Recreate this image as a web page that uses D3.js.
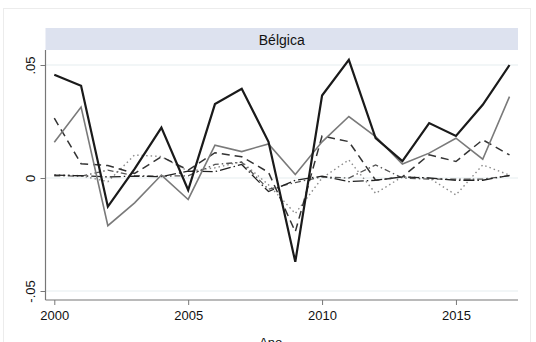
<!DOCTYPE html>
<html>
<head>
<meta charset="utf-8">
<script src="https://cdn.jsdelivr.net/npm/d3@7"></script>
<style>
  html, body { margin: 0; padding: 0; background: #fff; }
  svg { display: block; font-family: "Liberation Sans", Arial, Helvetica, sans-serif; }
</style>
</head>
<body>
<svg id="chart" width="536" height="342"></svg>
<script>
const years = [2000,2001,2002,2003,2004,2005,2006,2007,2008,2009,2010,2011,2012,2013,2014,2015,2016,2017];
const seriesBlack   = [0.0457,0.0408,-0.0127,0.0040,0.0223,-0.0053,0.0327,0.0395,0.0160,-0.0371,0.0365,0.0523,0.0177,0.0075,0.0243,0.0186,0.0324,0.0500];
const seriesGray    = [0.0158,0.0314,-0.0211,-0.0110,0.0013,-0.0095,0.0145,0.0117,0.0151,0.0015,0.0160,0.0272,0.0183,0.0062,0.0110,0.0176,0.0083,0.0360];
const seriesDash    = [0.0265,0.0063,0.0055,0.0020,0.0094,0.0035,0.0112,0.0094,0.0025,-0.0238,0.0186,0.0161,-0.0010,0.0005,0.0103,0.0073,0.0169,0.0102];
const seriesDot     = [0.0015,0.0010,-0.0016,0.0102,0.0095,0.0030,0.0045,0.0072,-0.0030,-0.0157,0.0000,0.0080,-0.0068,0.0006,0.0000,-0.0075,0.0058,0.0013];
const seriesDashDot = [0.0013,0.0010,0.0005,0.0008,0.0006,0.0030,0.0028,0.0060,-0.0060,-0.0010,0.0008,-0.0016,-0.0010,0.0005,0.0000,-0.0010,-0.0010,0.0012];
const seriesShortDD = [0.0010,0.0008,0.0035,0.0010,0.0008,0.0010,0.0060,0.0070,-0.0050,-0.0020,0.0005,0.0000,0.0058,0.0000,-0.0005,-0.0005,-0.0005,0.0010];
const xTicks = [2000,2005,2010,2015];
const yTicks = [-0.05,0,0.05];
const yTickLabels = ["-.05","0",".05"];
const panelTitle = "Bélgica";
const xTitle = "Ano";

const svg = d3.select("#chart");

// outer faint frame
svg.append("rect").attr("x",3.5).attr("y",8.5).attr("width",527).attr("height",345)
  .attr("fill","#fff").attr("stroke","#ececec").attr("stroke-width",1);

const plot = {left:45.5, right:518, top:50, bottom:300};
const x = d3.scaleLinear().domain([2000,2017]).range([54.3,509.5]);
const y = d3.scaleLinear().domain([-0.05,0.05]).range([291,65]);

// title strip
svg.append("rect").attr("x",plot.left).attr("y",28).attr("width",plot.right-plot.left).attr("height",22)
  .attr("fill","#dde2ef");
svg.append("text").attr("x",(plot.left+plot.right)/2).attr("y",44.5)
  .attr("text-anchor","middle").attr("font-size",14).attr("fill","#111").text(panelTitle);

// gridlines
svg.append("g").selectAll("line").data(yTicks).join("line")
  .attr("x1",plot.left).attr("x2",plot.right)
  .attr("y1",d=>y(d)).attr("y2",d=>y(d))
  .attr("stroke","#e6eef0").attr("stroke-width",1.2);

// lines
const line = d3.line().x((d,i)=>x(years[i])).y(d=>y(d));
const styles = [
  {data:seriesDot,     stroke:"#8a8a8a", w:1.4, dash:"1.5,3"},
  {data:seriesShortDD, stroke:"#555",    w:1.3, dash:"6,3,1.5,3"},
  {data:seriesDashDot, stroke:"#222",    w:1.3, dash:"11,3,1.5,3"},
  {data:seriesDash,    stroke:"#333",    w:1.5, dash:"8,5"},
  {data:seriesGray,    stroke:"#7a7a7a", w:1.6, dash:null},
  {data:seriesBlack,   stroke:"#1a1a1a", w:2.2, dash:null}
];
svg.append("g").selectAll("path").data(styles).join("path")
  .attr("d",s=>line(s.data))
  .attr("fill","none")
  .attr("stroke",s=>s.stroke)
  .attr("stroke-width",s=>s.w)
  .attr("stroke-dasharray",s=>s.dash)
  .attr("stroke-linejoin","miter");

// y axis
const yAxis = d3.axisLeft(y).tickValues(yTicks).tickSize(5).tickPadding(0)
  .tickFormat((d,i)=>yTickLabels[i]);
const gy = svg.append("g").attr("transform",`translate(${plot.left},0)`).call(yAxis);
gy.select(".domain").attr("d",`M0,${plot.top}V${plot.bottom}`).attr("stroke","#777").attr("stroke-width",1.2);
gy.selectAll(".tick line").attr("stroke","#777");
gy.selectAll(".tick text")
  .attr("font-size",13).attr("fill","#111")
  .attr("text-anchor","middle")
  .attr("transform","rotate(-90)")
  .attr("x",0).attr("y",-11).attr("dy",0);

// x axis
const xAxis = d3.axisBottom(x).tickValues(xTicks).tickSize(5).tickPadding(6).tickFormat(d3.format("d"));
const gx = svg.append("g").attr("transform",`translate(0,${plot.bottom})`).call(xAxis);
gx.select(".domain").attr("d",`M${plot.left},0H${plot.right}`).attr("stroke","#777").attr("stroke-width",1.2);
gx.selectAll(".tick line").attr("stroke","#777");
gx.selectAll(".tick text").attr("font-size",13).attr("fill","#111");

svg.append("text").attr("x",(plot.left+plot.right)/2 - 11).attr("y",347)
  .attr("text-anchor","middle").attr("font-size",13).attr("fill","#111").text(xTitle);
</script>
</body>
</html>
